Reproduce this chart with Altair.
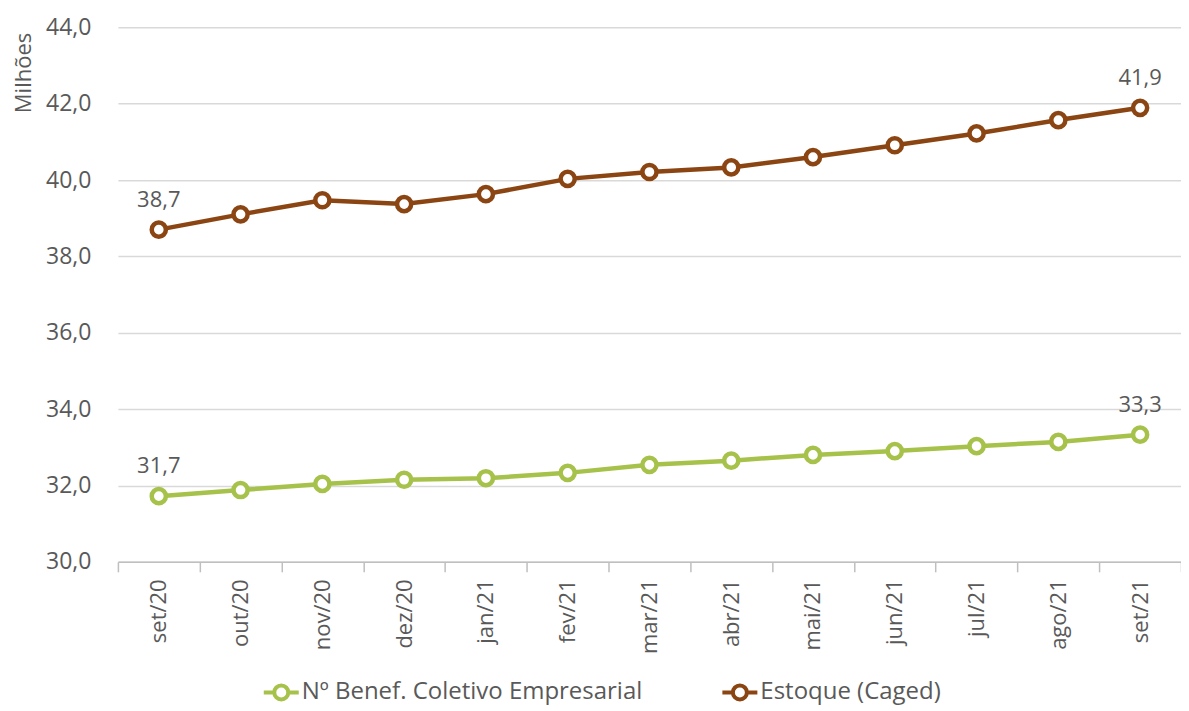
import altair as alt
import pandas as pd

months = ["set/20", "out/20", "nov/20", "dez/20", "jan/21", "fev/21", "mar/21",
          "abr/21", "mai/21", "jun/21", "jul/21", "ago/21", "set/21"]
benef = [31.72, 31.88, 32.04, 32.15, 32.19, 32.33, 32.54, 32.65, 32.80, 32.90, 33.03, 33.14, 33.33]
caged = [38.70, 39.10, 39.47, 39.37, 39.63, 40.03, 40.21, 40.33, 40.60, 40.91, 41.22, 41.57, 41.89]
series_names = ["Nº Benef. Coletivo Empresarial", "Estoque (Caged)"]
series_colors = ["#a6c24b", "#8b4513"]

rows = []
for name, vals in zip(series_names, [benef, caged]):
    for i, (m, v) in enumerate(zip(months, vals)):
        rows.append({"mes": m, "valor": v, "serie": name, "idx": i})
df = pd.DataFrame(rows)

FONT = "Open Sans"
GREY = "#595959"

legend_path = ("M-1,0L-0.4,0M0.4,0L1,0M0.4,0A0.4,0.4,0,1,1,-0.4,0"
               "A0.4,0.4,0,1,1,0.4,0Z")

color = alt.Color(
    "serie:N",
    scale=alt.Scale(domain=series_names, range=series_colors),
    sort=series_names,
    legend=alt.Legend(
        title=None, orient="none", direction="horizontal",
        legendX=144, legendY=646,
        symbolType=legend_path, symbolSize=1225, symbolStrokeWidth=4,
        symbolFillColor="white", labelFont=FONT, labelFontSize=24,
        labelColor=GREY, columnPadding=72, labelOffset=1,
        labelLimit=600,
    ),
)

x = alt.X(
    "mes:N", sort=months, title=None,
    scale=alt.Scale(paddingInner=0, paddingOuter=0),
    axis=alt.Axis(
        labelAngle=270, labelFont=FONT, labelFontSize=22, labelColor=GREY,
        labelPadding=7, domainColor="#bfbfbf", domainWidth=1.5,
        tickColor="#bfbfbf", tickWidth=1.5, tickSize=10, tickBand="extent",
        grid=False, labelAlign="right", labelBaseline="middle",
    ),
)
y = alt.Y(
    "valor:Q", title="Milhões",
    scale=alt.Scale(domain=[30, 44], nice=False, zero=False),
    axis=alt.Axis(
        values=[30, 32, 34, 36, 38, 40, 42, 44],
        labelExpr="replace(format(datum.value, '.1f'), '.', ',')",
        labelFont=FONT, labelFontSize=23, labelColor=GREY, labelPadding=27,
        ticks=False, domain=False, gridColor="#d9d9d9", gridWidth=1.5,
        titleFont=FONT, titleFontSize=22, titleColor=GREY,
        titleFontWeight="normal", titleAngle=270, titleAlign="right",
        titleBaseline="middle", titleX=-94, titleY=5,
    ),
)

base = alt.Chart(df).encode(x=x, y=y, color=color)

lines = base.mark_line(strokeWidth=4.5)
points = base.mark_point(filled=False, fill="white", fillOpacity=1, size=200,
                         strokeWidth=4.5, opacity=1)
labels = base.transform_filter(
    (alt.datum.idx == 0) | (alt.datum.idx == len(months) - 1)
).transform_calculate(
    lab="replace(format(datum.valor, '.1f'), '.', ',')"
).mark_text(dy=-30, font=FONT, fontSize=22, color=GREY).encode(
    text="lab:N", color=alt.value(GREY)
)

chart = alt.layer(lines, points, labels).properties(
    width=1064, height=535,
    padding={"top": 19, "left": 110, "right": 0, "bottom": 147},
    autosize=alt.AutoSizeParams(type="none"),
).configure_view(stroke=None)

chart.save("out.html", embed_options={"renderer": "svg", "actions": False})
